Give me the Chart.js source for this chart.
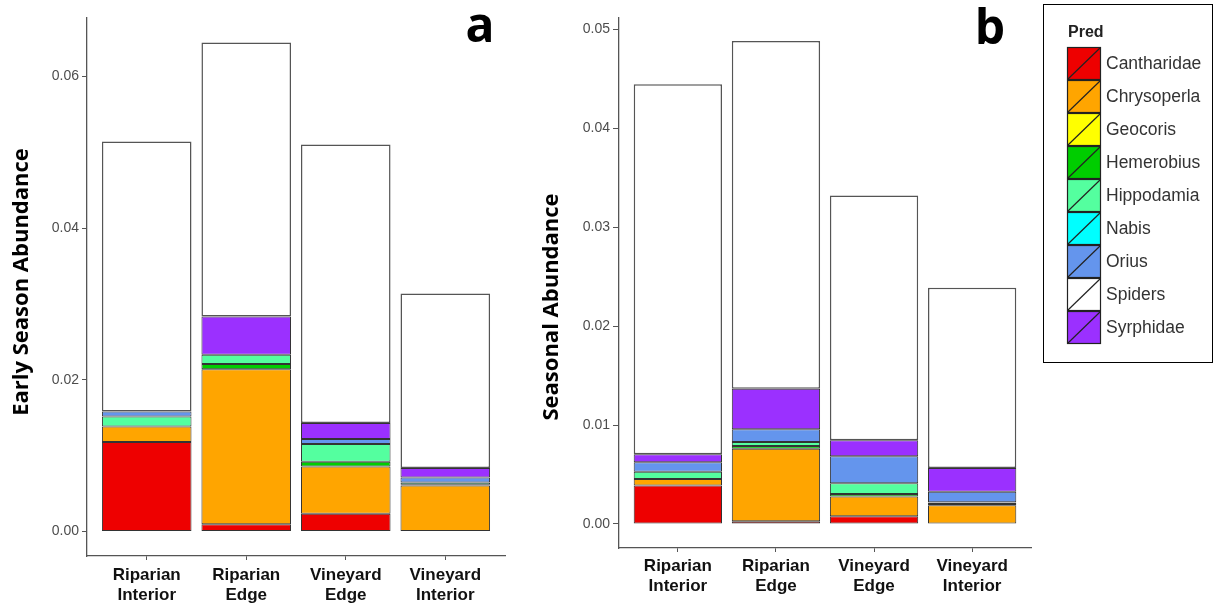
<!DOCTYPE html>
<html>
<head>
<meta charset="utf-8">
<script src="https://cdn.jsdelivr.net/npm/chart.js@4.4.1/dist/chart.umd.min.js"></script>
<style>
  html, body { margin: 0; padding: 0; background: #fff; }
  #wrap { position: relative; width: 1213px; height: 607px; }
  #chartA { position: absolute; left: 0; top: 0; }
  #chartB { position: absolute; left: 520px; top: 0; }
</style>
</head>
<body>
<div id="wrap">
  <canvas id="chartA" width="520" height="607"></canvas>
  <canvas id="chartB" width="693" height="607"></canvas>
</div>
<script>
const sites = ['Riparian Interior', 'Riparian Edge', 'Vineyard Edge', 'Vineyard Interior'];
const sitePos = [1, 2, 3, 4];

// stack order, bottom to top
const preds = ['Cantharidae', 'Chrysoperla', 'Geocoris', 'Hemerobius', 'Hippodamia', 'Nabis', 'Orius', 'Syrphidae', 'Spiders'];
// legend order
const legendOrder = ['Cantharidae', 'Chrysoperla', 'Geocoris', 'Hemerobius', 'Hippodamia', 'Nabis', 'Orius', 'Spiders', 'Syrphidae'];
const predColors = ['#EE0000', '#FFA500', '#FFFF00', '#00CD00', '#54FF9F', '#00FFFF', '#6495ED', '#9B30FF', '#FFFFFF'];

// a: early season abundance
const earlyCantharidae = [0.0118, 0.00097, 0.00233, 0];
const earlyChrysoperla = [0.00205, 0.02043, 0.00624, 0.00607];
const earlyGeocoris    = [0, 0, 0, 0];
const earlyHemerobius  = [0, 0.00067, 0.00062, 0.0001];
const earlyHippodamia  = [0.0013, 0.00123, 0.00233, 0.0003];
const earlyNabis       = [0, 0, 0, 0];
const earlyOrius       = [0.00066, 0, 0.00066, 0.00066];
const earlySyrphidae   = [0, 0.00505, 0.00211, 0.00123];
const earlySpiders     = [0.0356, 0.03612, 0.03673, 0.02303];

// b: seasonal abundance
const seasCantharidae = [0.0039, 0.00027, 0.00078, 0];
const seasChrysoperla = [0.00065, 0.00735, 0.00201, 0.0019];
const seasGeocoris    = [0, 0, 0, 0.00012];
const seasHemerobius  = [0, 0.00027, 0.00024, 0.00012];
const seasHippodamia  = [0.00074, 0.00041, 0.00109, 0.00005];
const seasNabis       = [0, 0, 0, 0];
const seasOrius       = [0.00096, 0.00129, 0.00272, 0.00108];
const seasSyrphidae   = [0.00081, 0.00408, 0.00163, 0.00238];
const seasSpiders     = [0.03741, 0.03517, 0.02476, 0.01825];

const yTicksA = [0, 0.02, 0.04, 0.06];
const yTicksB = [0, 0.01, 0.02, 0.03, 0.04, 0.05];

const earlySeries = [earlyCantharidae, earlyChrysoperla, earlyGeocoris, earlyHemerobius, earlyHippodamia,
                     earlyNabis, earlyOrius, earlySyrphidae, earlySpiders];
const seasSeries = [seasCantharidae, seasChrysoperla, seasGeocoris, seasHemerobius, seasHippodamia,
                    seasNabis, seasOrius, seasSyrphidae, seasSpiders];

const textPlugin = {
  id: 'texts',
  afterDraw(chart, args, opts) {
    const ctx = chart.ctx;
    (opts.items || []).forEach(t => {
      ctx.save();
      ctx.translate(t.x, t.y);
      ctx.rotate(t.rot || 0);
      ctx.font = t.font;
      ctx.fillStyle = t.color || '#000';
      ctx.textAlign = 'center';
      ctx.textBaseline = 'middle';
      ctx.fillText(t.text, 0, 0);
      ctx.restore();
    });
  }
};

const predLegend = {
  id: 'predLegend',
  afterDraw(chart, args, o) {
    if (!o.display) return;
    const ctx = chart.ctx;
    ctx.save();
    ctx.strokeStyle = '#000';
    ctx.lineWidth = 1;
    ctx.strokeRect(o.x + 0.5, o.y + 0.5, o.w, o.h);
    ctx.font = 'bold 16px "Liberation Sans", Arial, sans-serif';
    ctx.fillStyle = '#222';
    ctx.textAlign = 'left';
    ctx.textBaseline = 'middle';
    ctx.fillText('Pred', o.keyX + 1, o.titleY);
    legendOrder.forEach((name, i) => {
      const ds = chart.data.datasets.find(d => d.label === name);
      const ky = o.keyY + i * o.keyH;
      ctx.fillStyle = ds.backgroundColor;
      ctx.fillRect(o.keyX, ky, o.keyW, o.keyH);
      ctx.strokeStyle = '#222';
      ctx.lineWidth = 1.2;
      ctx.strokeRect(o.keyX + 0.5, ky + 0.5, o.keyW - 1, o.keyH - 1);
      ctx.beginPath();
      ctx.moveTo(o.keyX + 1, ky + o.keyH - 1);
      ctx.lineTo(o.keyX + o.keyW - 1, ky + 1);
      ctx.stroke();
      ctx.font = '17.5px "Liberation Sans", Arial, sans-serif';
      ctx.fillStyle = '#333';
      ctx.fillText(name, o.labelX, ky + o.keyH / 2 + 1);
    });
    ctx.restore();
  }
};

function makeDatasets(series) {
  return preds.map((name, k) => ({
    label: name,
    data: series[k].map((v, i) => ({x: sitePos[i], y: v})),
    backgroundColor: predColors[k],
    borderColor: name === 'Spiders' ? '#555' : '#333',
    borderWidth: name === 'Spiders' ? 1.5 : 1,
    borderSkipped: false,
    stack: 'all',
    categoryPercentage: 1,
    barPercentage: 0.9
  }));
}

function makeChart(id, series, yTicks, yMin, yMax, yWidth, padRight, xHeight, yTick, xPad, texts, legend) {
  return new Chart(document.getElementById(id), {
    type: 'bar',
    data: {datasets: makeDatasets(series)},
    plugins: [textPlugin, predLegend],
    options: {
      responsive: false,
      animation: false,
      layout: {padding: {left: 0, right: padRight, top: 18, bottom: 0}},
      plugins: {
        legend: {display: false},
        tooltip: {enabled: false},
        texts: {items: texts},
        predLegend: legend
      },
      scales: {
        x: {
          type: 'linear',
          offset: false,
          min: 0.4,
          max: 4.6,
          afterBuildTicks: s => { s.ticks = sitePos.map(v => ({value: v})); },
          afterFit: s => { s.height = xHeight; },
          grid: {offset: false, drawOnChartArea: false, drawTicks: true, tickLength: 4, color: '#555'},
          border: {display: true, color: '#555', width: 1.3},
          ticks: {
            autoSkip: false,
            maxRotation: 0,
            padding: xPad,
            color: '#111',
            font: {family: '"Liberation Sans", Arial, sans-serif', size: 17, weight: 'bold', lineHeight: 1.15},
            callback: v => sites[v - 1].split(' ')
          }
        },
        y: {
          stacked: true,
          min: yMin,
          max: yMax,
          afterBuildTicks: s => { s.ticks = yTicks.map(v => ({value: v})); },
          afterFit: s => { s.width = yWidth; },
          grid: {drawOnChartArea: false, drawTicks: true, tickLength: yTick[0], color: '#555'},
          border: {display: true, color: '#555', width: 1.3},
          ticks: {
            padding: yTick[1],
            color: '#4d4d4d',
            font: {family: '"Liberation Sans", Arial, sans-serif', size: 14},
            callback: v => v.toFixed(2)
          }
        }
      }
    }
  });
}

makeChart('chartA', earlySeries, yTicksA, -0.00323, 0.0677, 87, 15, 51, [5, 3], 6, [
  {text: 'Early Season Abundance', x: 22, y: 282, rot: -Math.PI / 2, font: 'bold 22px "Open Sans", sans-serif'},
  {text: 'a', x: 480, y: 28, font: 'bold 48px "Open Sans", sans-serif'}
], {display: false});

makeChart('chartB', seasSeries, yTicksB, -0.00243, 0.05117, 99, 182, 59, [6, 3], 5, [
  {text: 'Seasonal Abundance', x: 32, y: 307, rot: -Math.PI / 2, font: 'bold 22px "Open Sans", sans-serif'},
  {text: 'b', x: 470, y: 30, font: 'bold 48px "Open Sans", sans-serif'}
], {display: true, x: 523, y: 4, w: 169, h: 358, titleY: 33, keyX: 547, keyY: 47, keyW: 34, keyH: 33, labelX: 586});
</script>
</body>
</html>
